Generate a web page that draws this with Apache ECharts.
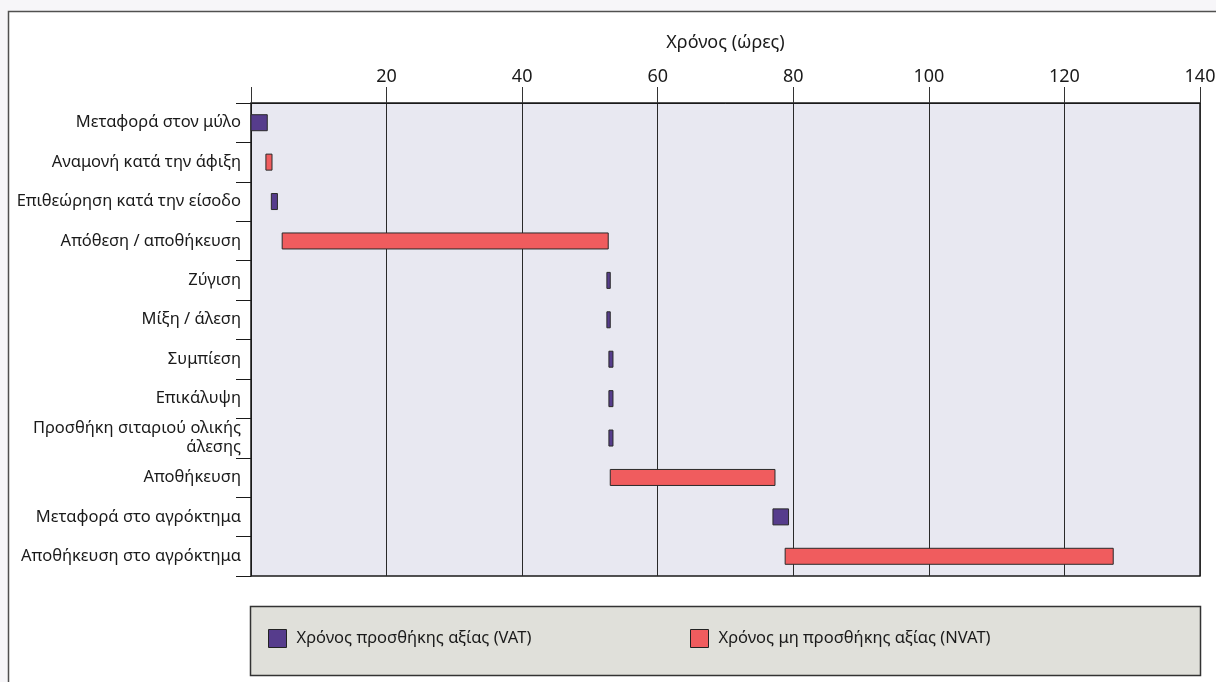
<!DOCTYPE html>
<html>
<head>
<meta charset="utf-8">
<script src="https://cdn.jsdelivr.net/npm/echarts@6/dist/echarts.min.js"></script>
<style>
  html, body { margin: 0; padding: 0; background: #f7f6f9; }
  #chart { width: 1216px; height: 682px; }
</style>
</head>
<body>
<div id="chart"></div>
<script>
// Process steps of the flour supply chain (top to bottom)
const steps = [
  'Μεταφορά στον μύλο',
  'Αναμονή κατά την άφιξη',
  'Επιθεώρηση κατά την είσοδο',
  'Απόθεση / αποθήκευση',
  'Ζύγιση',
  'Μίξη / άλεση',
  'Συμπίεση',
  'Επικάλυψη',
  'Προσθήκη σιταριού ολικής\nάλεσης',
  'Αποθήκευση',
  'Μεταφορά στο αγρόκτημα',
  'Αποθήκευση στο αγρόκτημα'
];
// Start and end time of each step, in hours
const startHours = [0, 2.2, 3.0, 4.6, 52.5, 52.5, 52.8, 52.8, 52.8, 53.0, 77.0, 78.8];
const endHours   = [2.4, 3.1, 3.9, 52.7, 53.0, 53.0, 53.4, 53.4, 53.4, 77.3, 79.3, 127.2];
// Value-added (VAT) or non-value-added (NVAT) time
const kinds = ['VAT', 'NVAT', 'VAT', 'NVAT', 'VAT', 'VAT', 'VAT', 'VAT', 'VAT', 'NVAT', 'VAT', 'NVAT'];
const xTicks = [0, 20, 40, 60, 80, 100, 120, 140];

const seriesNames = {
  VAT: 'Χρόνος προσθήκης αξίας (VAT)',
  NVAT: 'Χρόνος μη προσθήκης αξίας (NVAT)'
};
const colors = { VAT: '#563c8c', NVAT: '#f05c5e' };
const FONT = '"Noto Sans", "Open Sans", sans-serif';

function rowsOf(kind) {
  const rows = [];
  steps.forEach((s, i) => {
    if (kinds[i] === kind) rows.push([i, startHours[i], endHours[i]]);
  });
  return rows;
}

function renderBar(params, api) {
  const cat = api.value(0);
  const a = api.coord([api.value(1), cat]);
  const b = api.coord([api.value(2), cat]);
  const h = 16;
  return {
    type: 'rect',
    shape: { x: a[0], y: a[1] - h / 2, width: b[0] - a[0], height: h },
    style: { fill: api.visual('color'), stroke: '#2a2a2a', lineWidth: 1 }
  };
}

function makeSeries(kind) {
  return {
    type: 'custom',
    name: seriesNames[kind],
    renderItem: renderBar,
    itemStyle: { color: colors[kind], borderColor: '#2a2a2a', borderWidth: 1 },
    encode: { x: [1, 2], y: 0 },
    data: rowsOf(kind)
  };
}

function legendFor(kind, left) {
  return {
    data: [seriesNames[kind]],
    left: left, top: 629,
    padding: 0,
    itemWidth: 18, itemHeight: 18, itemGap: 8,
    icon: 'rect',
    itemStyle: { borderColor: '#222', borderWidth: 1 },
    textStyle: { fontSize: 16.5, color: '#1a1a1a', fontFamily: FONT, padding: [0, 0, 0, 5] }
  };
}

const chart = echarts.init(document.getElementById('chart'));
chart.setOption({
  backgroundColor: '#f7f6f9',
  animation: false,
  textStyle: { fontFamily: FONT },
  graphic: [
    {
      type: 'rect', z: -10, silent: true,
      shape: { x: 8.5, y: 11.5, width: 1230, height: 700 },
      style: { fill: '#ffffff', stroke: '#505050', lineWidth: 1.5 }
    },
    {
      type: 'rect', z: -5, silent: true,
      shape: { x: 250.5, y: 606.5, width: 950, height: 69 },
      style: { fill: '#e0e0da', stroke: '#333333', lineWidth: 1.5 }
    }
  ],
  grid: {
    left: 251, right: 16, top: 103, bottom: 106,
    outerBoundsMode: 'none',
    containLabel: false,
    show: true,
    backgroundColor: '#e8e8f1',
    borderColor: '#1a1a1a',
    borderWidth: 1.5
  },
  legend: [legendFor('VAT', 268), legendFor('NVAT', 690)],
  xAxis: {
    type: 'value',
    position: 'top',
    min: xTicks[0],
    max: xTicks[xTicks.length - 1],
    interval: xTicks[1] - xTicks[0],
    name: 'Χρόνος (ώρες)',
    nameLocation: 'middle',
    nameGap: 51,
    nameTextStyle: { fontSize: 18, color: '#1a1a1a', fontFamily: FONT },
    axisLine: { show: true, lineStyle: { color: '#1a1a1a', width: 1 } },
    axisTick: { show: true, length: 16, lineStyle: { color: '#333', width: 1 } },
    axisLabel: {
      fontSize: 18, color: '#1a1a1a', margin: 17, fontFamily: FONT,
      formatter: v => (v === 0 ? '' : String(v))
    },
    splitLine: { show: true, lineStyle: { color: '#2a2a2a', width: 1 } }
  },
  yAxis: {
    type: 'category',
    data: steps,
    inverse: true,
    axisLine: { show: true, lineStyle: { color: '#1a1a1a', width: 1 } },
    axisTick: { show: true, length: 15, alignWithLabel: false, lineStyle: { color: '#1a1a1a', width: 1 } },
    axisLabel: {
      fontSize: 16.5, color: '#1a1a1a', margin: 10, lineHeight: 19,
      align: 'right', fontFamily: FONT
    },
    splitLine: { show: false }
  },
  series: [makeSeries('VAT'), makeSeries('NVAT')]
});
</script>
</body>
</html>
